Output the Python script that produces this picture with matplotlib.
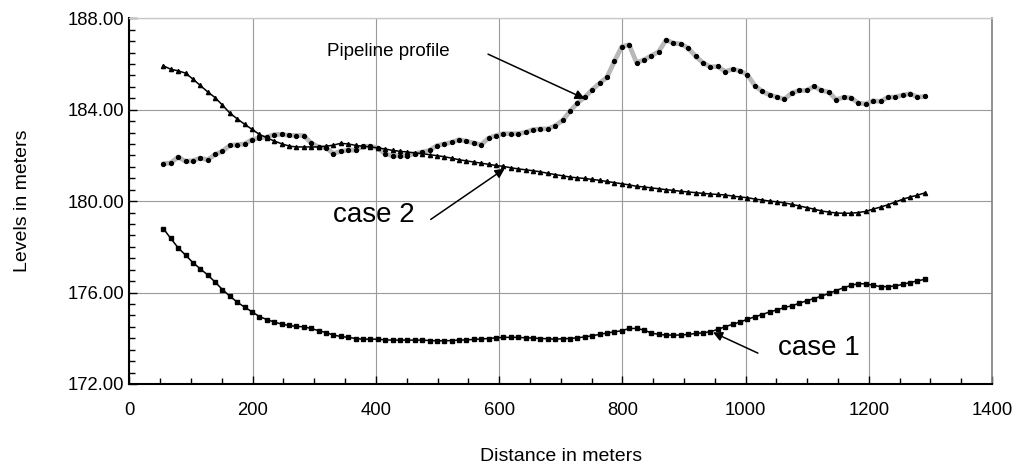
import matplotlib
matplotlib.use("Agg")
import matplotlib.pyplot as plt
from matplotlib.ticker import MultipleLocator, FormatStrFormatter

plt.rcParams['font.family'] = ['Liberation Sans', 'DejaVu Sans']

distance = [55, 67, 79, 91, 103, 115, 127, 139, 151, 163, 175, 187, 199, 211, 223, 235,
            247, 259, 271, 283, 295, 307, 319, 331, 343, 355, 367, 379, 391, 403, 415, 427,
            439, 451, 463, 475, 487, 499, 511, 523, 535, 547, 559, 571, 583, 595, 607, 619,
            631, 643, 655, 667, 679, 691, 703, 715, 727, 739, 751, 763, 775, 787, 799, 811,
            823, 835, 847, 859, 871, 883, 895, 907, 919, 931, 943, 955, 967, 979, 991, 1003,
            1015, 1027, 1039, 1051, 1063, 1075, 1087, 1099, 1111, 1123, 1135, 1147, 1159,
            1171, 1183, 1195, 1207, 1219, 1231, 1243, 1255, 1267, 1279, 1291]

pipeline = [181.64, 181.67, 181.93, 181.74, 181.77, 181.88, 181.81, 182.04, 182.18, 182.44,
            182.47, 182.50, 182.69, 182.76, 182.80, 182.91, 182.92, 182.88, 182.87, 182.87,
            182.54, 182.37, 182.33, 182.08, 182.18, 182.23, 182.23, 182.40, 182.40, 182.33,
            182.06, 181.99, 181.99, 181.99, 182.08, 182.14, 182.22, 182.43, 182.50, 182.57,
            182.69, 182.62, 182.54, 182.47, 182.76, 182.87, 182.95, 182.95, 182.95, 183.01,
            183.13, 183.16, 183.16, 183.30, 183.53, 183.93, 184.29, 184.55, 184.87, 185.16,
            185.42, 186.11, 186.76, 186.84, 186.06, 186.18, 186.36, 186.54, 187.05, 186.91,
            186.88, 186.69, 186.33, 186.05, 185.87, 185.89, 185.67, 185.77, 185.70, 185.53,
            185.05, 184.80, 184.65, 184.55, 184.46, 184.73, 184.84, 184.84, 185.02, 184.84,
            184.77, 184.44, 184.54, 184.52, 184.29, 184.25, 184.39, 184.36, 184.55, 184.55,
            184.64, 184.70, 184.55, 184.58]

case2 = [185.92, 185.77, 185.70, 185.60, 185.34, 185.06, 184.78, 184.53, 184.20, 183.85,
         183.60, 183.36, 183.14, 182.92, 182.77, 182.63, 182.51, 182.41, 182.37, 182.37,
         182.37, 182.37, 182.40, 182.45, 182.53, 182.50, 182.44, 182.40, 182.37, 182.33,
         182.28, 182.22, 182.18, 182.15, 182.11, 182.08, 182.03, 181.99, 181.94, 181.88,
         181.81, 181.76, 181.71, 181.66, 181.61, 181.56, 181.52, 181.46, 181.41, 181.37,
         181.33, 181.28, 181.22, 181.16, 181.11, 181.05, 181.02, 180.99, 180.95, 180.91,
         180.86, 180.81, 180.76, 180.71, 180.65, 180.62, 180.58, 180.54, 180.50, 180.47,
         180.43, 180.40, 180.37, 180.34, 180.31, 180.29, 180.27, 180.22, 180.18, 180.15,
         180.09, 180.05, 180.00, 179.97, 179.92, 179.86, 179.79, 179.72, 179.65, 179.57,
         179.52, 179.48, 179.47, 179.47, 179.50, 179.55, 179.65, 179.74, 179.84, 179.96,
         180.08, 180.18, 180.26, 180.36]

case1 = [178.80, 178.37, 177.96, 177.64, 177.31, 177.04, 176.77, 176.46, 176.13, 175.84,
         175.58, 175.36, 175.16, 174.95, 174.82, 174.71, 174.62, 174.56, 174.52, 174.50,
         174.43, 174.33, 174.25, 174.14, 174.08, 174.04, 173.99, 173.96, 173.96, 173.96,
         173.93, 173.92, 173.92, 173.92, 173.92, 173.92, 173.90, 173.89, 173.89, 173.90,
         173.92, 173.93, 173.95, 173.97, 173.99, 174.02, 174.04, 174.04, 174.04, 174.02,
         174.01, 173.99, 173.98, 173.96, 173.98, 173.99, 174.02, 174.06, 174.11, 174.17,
         174.23, 174.28, 174.33, 174.43, 174.43, 174.36, 174.23, 174.17, 174.14, 174.14,
         174.14, 174.17, 174.21, 174.24, 174.29, 174.39, 174.51, 174.61, 174.71, 174.83,
         174.94, 175.04, 175.15, 175.24, 175.35, 175.42, 175.53, 175.64, 175.74, 175.84,
         175.96, 176.09, 176.21, 176.31, 176.39, 176.38, 176.32, 176.26, 176.26, 176.29,
         176.36, 176.44, 176.51, 176.58]

fig = plt.figure(figsize=(10.24, 4.68), dpi=100)
ax = fig.add_axes([0.1264, 0.1795, 0.8424, 0.7815])

# Pipeline profile: thick grey line with black dots
ax.plot(distance, pipeline, color='#b8b8b8', lw=3.4, zorder=3, solid_capstyle='round')
ax.plot(distance, pipeline, ls='none', marker='o', ms=2.8, color='black', zorder=4)
# case 2
ax.plot(distance, case2, color='black', lw=1.1, marker='^', ms=3.0, zorder=5)
# case 1
ax.plot(distance, case1, color='black', lw=1.1, marker='s', ms=2.6, zorder=5)

ax.set_xlim(0, 1400)
ax.set_ylim(172, 188)
ax.xaxis.set_major_locator(MultipleLocator(200))
ax.xaxis.set_minor_locator(MultipleLocator(50))
ax.yaxis.set_major_locator(MultipleLocator(4))
ax.yaxis.set_minor_locator(MultipleLocator(0.5))
ax.yaxis.set_major_formatter(FormatStrFormatter('%.2f'))

ax.grid(True, which='major', color='#9a9a9a', lw=0.8, zorder=0)
ax.set_axisbelow(True)

ax.tick_params(which='both', direction='in', labelsize=13.3, colors='black')
ax.tick_params(which='major', length=6, width=1.0)
ax.tick_params(which='minor', length=4, width=1.0)
ax.tick_params(axis='x', which='major', pad=13)
ax.tick_params(axis='y', which='major', pad=4)

for s in ['left', 'bottom']:
    ax.spines[s].set_color('black')
    ax.spines[s].set_linewidth(1.5)
ax.spines['right'].set_color('#808080')
ax.spines['right'].set_linewidth(1.2)
ax.spines['top'].set_color('#c8c8c8')
ax.spines['top'].set_linewidth(1.0)

ax.set_xlabel('Distance in meters', fontsize=14, labelpad=21)
ax.set_ylabel('Levels in meters', fontsize=14, labelpad=26)

arrow = dict(arrowstyle='-|>', color='black', lw=1.1, mutation_scale=14, shrinkA=0, shrinkB=0)

ax.text(320, 186.53, 'Pipeline profile', fontsize=13.5, va='center', ha='left', zorder=6)
ax.annotate('', xy=(739, 184.48), xytext=(582, 186.43), arrowprops=arrow, zorder=6)

ax.text(330, 179.40, 'case 2', fontsize=20, va='center', ha='left', zorder=6)
ax.annotate('', xy=(609, 181.42), xytext=(489, 179.20), arrowprops=arrow, zorder=6)

ax.text(1053, 173.56, 'case 1', fontsize=20, va='center', ha='left', zorder=6)
ax.annotate('', xy=(947, 174.26), xytext=(1020, 173.35), arrowprops=arrow, zorder=6)

fig.savefig('out.png', dpi=100)
